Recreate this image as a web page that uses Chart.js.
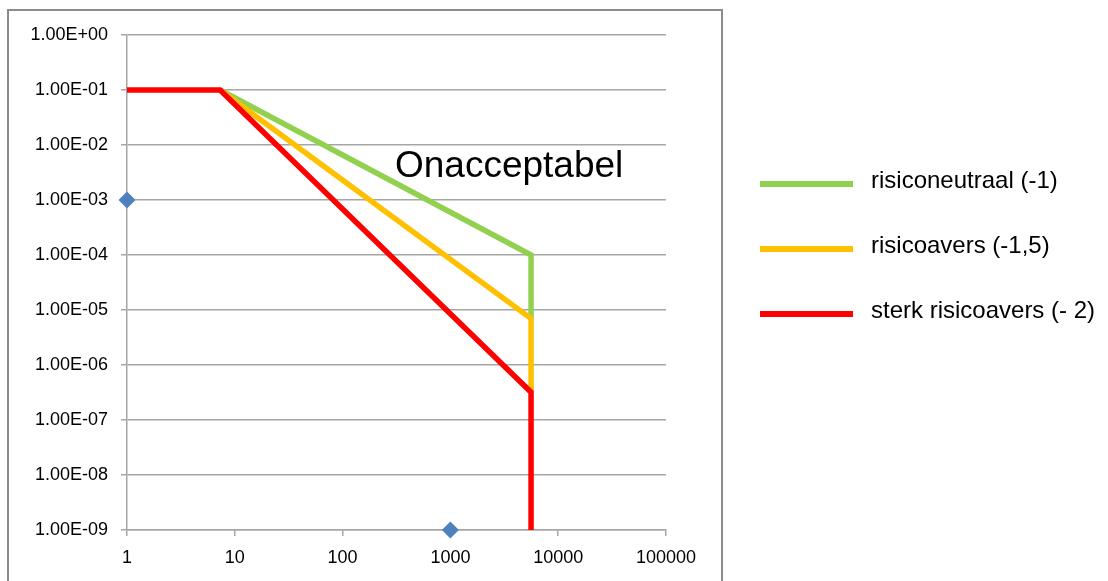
<!DOCTYPE html>
<html>
<head>
<meta charset="utf-8">
<script src="https://cdn.jsdelivr.net/npm/chart.js@4/dist/chart.umd.min.js"></script>
<style>
  html, body { margin: 0; padding: 0; background: #fff; }
  #wrap { position: relative; width: 1108px; height: 581px; }
</style>
</head>
<body>
<div id="wrap"><canvas id="myChart" width="1108" height="581"></canvas></div>
<script>
// tick values for both log axes
var xTicks = [1, 10, 100, 1000, 10000, 100000];
var yTicks = [1e-9, 1e-8, 1e-7, 1e-6, 1e-5, 1e-4, 1e-3, 1e-2, 1e-1, 1];

// risiconeutraal (-1)
var xNeutraal = [7.3, 5600, 5600];
var yNeutraal = [0.1, 1e-4, 7e-6];
// risicoavers (-1,5)
var xAvers = [7.3, 5600, 5600];
var yAvers = [0.1, 7e-6, 3.2e-7];
// sterk risicoavers (- 2)
var xSterk = [1, 7.3, 5600, 5600];
var ySterk = [0.1, 0.1, 3.2e-7, 1e-9];
// losse punten (ruit)
var xPunten = [1, 1000];
var yPunten = [1e-3, 1e-9];

var legendLabels = ['risiconeutraal (-1)', 'risicoavers (-1,5)', 'sterk risicoavers (- 2)'];
var legendColors = ['#92D050', '#FFC000', '#FF0000'];

function toPoints(xs, ys) {
    var pts = [];
    for (var i = 0; i < xs.length; i++) {
        pts.push({ x: xs[i], y: ys[i] });
    }
    return pts;
}

// 1.00E-01 style labels
function excelExp(v) {
    var e = Math.round(Math.log10(v));
    var sign = e < 0 ? '-' : '+';
    var n = Math.abs(e);
    return '1.00E' + sign + (n < 10 ? '0' + n : n);
}

function lineSet(label, xs, ys, color) {
    return {
        label: label,
        data: toPoints(xs, ys),
        showLine: true,
        borderColor: color,
        backgroundColor: color,
        borderWidth: 5.5,
        pointRadius: 0,
        tension: 0,
        clip: false
    };
}

var extras = {
    id: 'extras',
    beforeDraw: function (chart) {
        var ctx = chart.ctx;
        ctx.save();
        ctx.strokeStyle = '#8c8c8c';
        ctx.lineWidth = 2;
        ctx.strokeRect(8, 10, 714, 620);
        ctx.restore();
    },
    afterDraw: function (chart) {
        var ctx = chart.ctx;
        ctx.save();
        // label inside the plot
        ctx.fillStyle = '#000';
        ctx.font = '37px "Liberation Sans", Arial, sans-serif';
        ctx.textBaseline = 'alphabetic';
        ctx.textAlign = 'left';
        ctx.fillText('Onacceptabel', 395, 177);

        // legend at the right
        var ys = [184, 249, 314];
        ctx.font = '24px "Liberation Sans", Arial, sans-serif';
        ctx.textBaseline = 'middle';
        for (var i = 0; i < legendLabels.length; i++) {
            ctx.strokeStyle = legendColors[i];
            ctx.lineWidth = 6;
            ctx.beginPath();
            ctx.moveTo(760, ys[i]);
            ctx.lineTo(853, ys[i]);
            ctx.stroke();
            ctx.fillStyle = '#000';
            ctx.fillText(legendLabels[i], 871, ys[i] - 3);
        }
        ctx.restore();
    }
};

var tickFont = { family: '"Liberation Sans", Arial, sans-serif', size: 18 };

new Chart(document.getElementById('myChart'), {
    type: 'scatter',
    data: {
        datasets: [
            lineSet(legendLabels[2], xSterk, ySterk, legendColors[2]),
            lineSet(legendLabels[1], xAvers, yAvers, legendColors[1]),
            lineSet(legendLabels[0], xNeutraal, yNeutraal, legendColors[0]),
            {
                label: 'punten',
                data: toPoints(xPunten, yPunten),
                pointStyle: 'rectRot',
                pointRadius: 8.5,
                backgroundColor: '#4F81BD',
                borderColor: '#4F81BD',
                borderWidth: 0,
                clip: false
            }
        ]
    },
    options: {
        responsive: false,
        animation: false,
        layout: { padding: { left: 0, top: 35, right: 442, bottom: 0 }, autoPadding: false },
        plugins: { legend: { display: false }, tooltip: { enabled: false } },
        scales: {
            x: {
                type: 'logarithmic',
                min: 1,
                max: 100000,
                afterBuildTicks: function (scale) {
                    scale.ticks = xTicks.map(function (v) { return { value: v }; });
                },
                afterFit: function (scale) { scale.height = 51; },
                ticks: {
                    color: '#000',
                    font: tickFont,
                    padding: 11,
                    maxRotation: 0,
                    autoSkip: false,
                    callback: function (v) { return String(v); }
                },
                grid: { drawOnChartArea: false, drawTicks: true, tickLength: 6, color: '#a6a6a6', lineWidth: 1.5 },
                border: { display: true, color: '#a6a6a6', width: 1.5 }
            },
            y: {
                type: 'logarithmic',
                min: 1e-9,
                max: 1,
                afterBuildTicks: function (scale) {
                    scale.ticks = yTicks.map(function (v) { return { value: v }; });
                },
                afterFit: function (scale) { scale.width = 127; },
                ticks: {
                    color: '#000',
                    font: tickFont,
                    padding: 13,
                    autoSkip: false,
                    callback: function (v) { return excelExp(v); }
                },
                grid: { drawOnChartArea: true, drawTicks: true, tickLength: 6, color: '#a6a6a6', lineWidth: 1.5 },
                border: { display: true, color: '#a6a6a6', width: 1.5 }
            }
        }
    },
    plugins: [extras]
});
</script>
</body>
</html>
